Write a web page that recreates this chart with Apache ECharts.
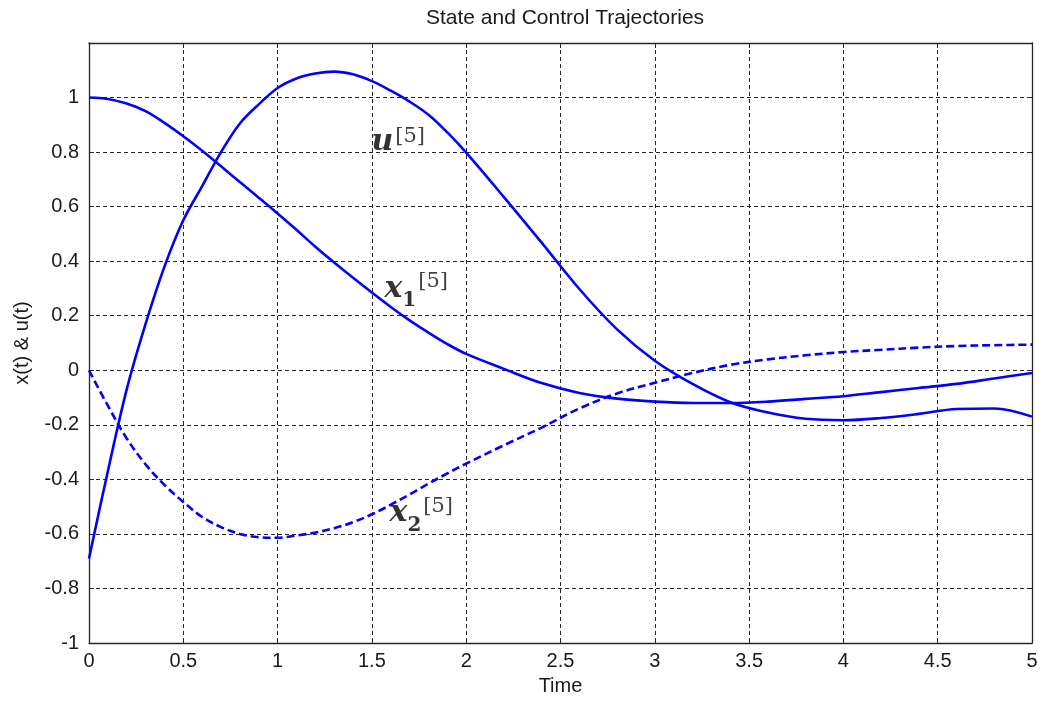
<!DOCTYPE html>
<html>
<head>
<meta charset="utf-8">
<script src="https://cdn.jsdelivr.net/npm/echarts@6/dist/echarts.min.js"></script>
<style>
html,body{margin:0;padding:0;background:#fff;}
#c{width:1042px;height:702px;}
</style>
</head>
<body>
<div id="c"></div>
<script>
// Time samples (s)
var time = [0,0.1,0.2,0.3,0.4,0.5,0.6,0.7,0.8,0.9,1.0,1.1,1.2,1.3,1.4,1.5,1.6,1.7,1.8,1.9,2.0,
            2.2,2.4,2.6,2.8,3.0,3.2,3.4,3.6,3.8,4.0,4.2,4.4,4.6,4.8,5.0];
// x1[5] (solid)
var x1 = [1.0,0.995,0.978,0.95,0.907,0.858,0.805,0.748,0.69,0.633,0.575,0.515,0.453,0.395,0.339,0.285,0.232,0.183,0.138,0.096,0.06,
          0.005,-0.047,-0.083,-0.104,-0.115,-0.12,-0.12,-0.115,-0.105,-0.095,-0.08,-0.065,-0.05,-0.03,-0.01];
// x2[5] (dashed)
var x2 = [0,-0.13,-0.25,-0.345,-0.42,-0.483,-0.538,-0.575,-0.6,-0.612,-0.614,-0.606,-0.595,-0.579,-0.557,-0.528,-0.493,-0.455,-0.416,-0.378,-0.342,
          -0.275,-0.21,-0.14,-0.085,-0.046,-0.01,0.02,0.04,0.055,0.067,0.075,0.083,0.089,0.092,0.094];
// u[5] (solid)
var u = [-0.69,-0.37,-0.07,0.17,0.38,0.55,0.675,0.8,0.905,0.975,1.035,1.07,1.088,1.095,1.085,1.06,1.025,0.985,0.937,0.872,0.798,
         0.635,0.468,0.298,0.15,0.035,-0.05,-0.117,-0.155,-0.178,-0.183,-0.175,-0.16,-0.142,-0.14,-0.17];

var xTicks = {min: 0, max: 5, interval: 0.5};
var yTicks = {min: -1, max: 1.2, interval: 0.2};

function pairs(ys){ return time.map(function(t,i){ return [t, ys[i]]; }); }

var txt = '#1a1a1a';
var font = 'Liberation Sans, Arial, sans-serif';
var gridCol = '#262626';
var fs = 20;

var rich = {
  b: {fontFamily:'DejaVu Serif', fontWeight:'bold', fontStyle:'italic', fontSize:30, lineHeight:30, color:'#000', verticalAlign:'bottom', padding:[0,0,0,0]},
  bx: {fontFamily:'DejaVu Serif', fontWeight:'bold', fontStyle:'italic', fontSize:30, lineHeight:30, color:'#000', verticalAlign:'bottom', padding:[0,0,7,0]},
  s: {fontFamily:'DejaVu Serif', fontWeight:'bold', fontSize:20, lineHeight:20, color:'#000', verticalAlign:'bottom', padding:[0,0,0,0]},
  pu: {fontFamily:'DejaVu Serif', fontSize:21, lineHeight:21, color:'#111', verticalAlign:'bottom', padding:[0,0,10,2]},
  px: {fontFamily:'DejaVu Serif', fontSize:21, lineHeight:21, color:'#111', verticalAlign:'bottom', padding:[0,0,19,2]}
};

var annotations = [
  {value:[1.50, 0.78], text:'{b|u}{pu|[5]}'},
  {value:[1.569, 0.216], text:'{bx|x}{s|1}{px|[5]}'},
  {value:[1.596, -0.608], text:'{bx|x}{s|2}{px|[5]}'}
];

var chart = echarts.init(document.getElementById('c'), null, {renderer:'canvas'});

var tickInside = {show:true, inside:true, length:5, lineStyle:{color:gridCol, width:1}};
var lineAx = {show:true, onZero:false, lineStyle:{color:gridCol, width:1.3}};

chart.setOption({
  backgroundColor:'#ffffff',
  animation:false,
  title:{
    text:'State and Control Trajectories', left:560, top:3, textAlign:'center',
    textStyle:{fontFamily:font, fontSize:21, fontWeight:'normal', color:txt}
  },
  grid:{left:89, right:10, top:43, bottom:59, containLabel:false},
  xAxis:[{
    type:'value', min:xTicks.min, max:xTicks.max, interval:xTicks.interval,
    position:'bottom',
    name:'Time', nameLocation:'middle', nameGap:33,
    nameTextStyle:{fontFamily:font, fontSize:fs, color:txt},
    axisLine:lineAx, axisTick:tickInside,
    axisLabel:{fontFamily:font, fontSize:fs, color:txt, margin:8},
    splitLine:{show:true, lineStyle:{color:gridCol, type:[4,3], width:1}}
  },{
    type:'value', min:xTicks.min, max:xTicks.max, interval:xTicks.interval,
    position:'top',
    axisLine:lineAx, axisTick:tickInside, axisLabel:{show:false}, splitLine:{show:false}
  }],
  yAxis:[{
    type:'value', min:yTicks.min, max:yTicks.max, interval:yTicks.interval,
    position:'left',
    name:'x(t) & u(t)', nameLocation:'middle', nameGap:57,
    nameTextStyle:{fontFamily:font, fontSize:fs, color:txt},
    axisLine:lineAx, axisTick:tickInside,
    axisLabel:{fontFamily:font, fontSize:fs, color:txt, margin:10,
      formatter:function(v){ return v > 1.1 ? '' : String(+v.toFixed(1)); }},
    splitLine:{show:true, lineStyle:{color:gridCol, type:[4,3], width:1}}
  },{
    type:'value', min:yTicks.min, max:yTicks.max, interval:yTicks.interval,
    position:'right',
    axisLine:lineAx, axisTick:tickInside, axisLabel:{show:false}, splitLine:{show:false}
  }],
  series:[
    {name:'x1', type:'line', data:pairs(x1), showSymbol:false, symbol:'none', smooth:0.35,
     lineStyle:{color:'#0000ff', width:2.6}, z:3},
    {name:'x2', type:'line', data:pairs(x2), showSymbol:false, symbol:'none', smooth:0.35,
     lineStyle:{color:'#0000ff', width:2.6, type:[8,4]}, z:3},
    {name:'u', type:'line', data:pairs(u), showSymbol:false, symbol:'none', smooth:0.35,
     lineStyle:{color:'#0000ff', width:2.6}, z:3},
    {name:'labels', type:'scatter', silent:true, symbolSize:1, z:5,
     itemStyle:{color:'rgba(0,0,0,0)'},
     data:annotations.map(function(a){ return {value:a.value,
        label:{show:true, position:[0,0], align:'left', verticalAlign:'bottom', formatter:a.text, rich:rich}}; })
    }
  ]
});
</script>
</body>
</html>
